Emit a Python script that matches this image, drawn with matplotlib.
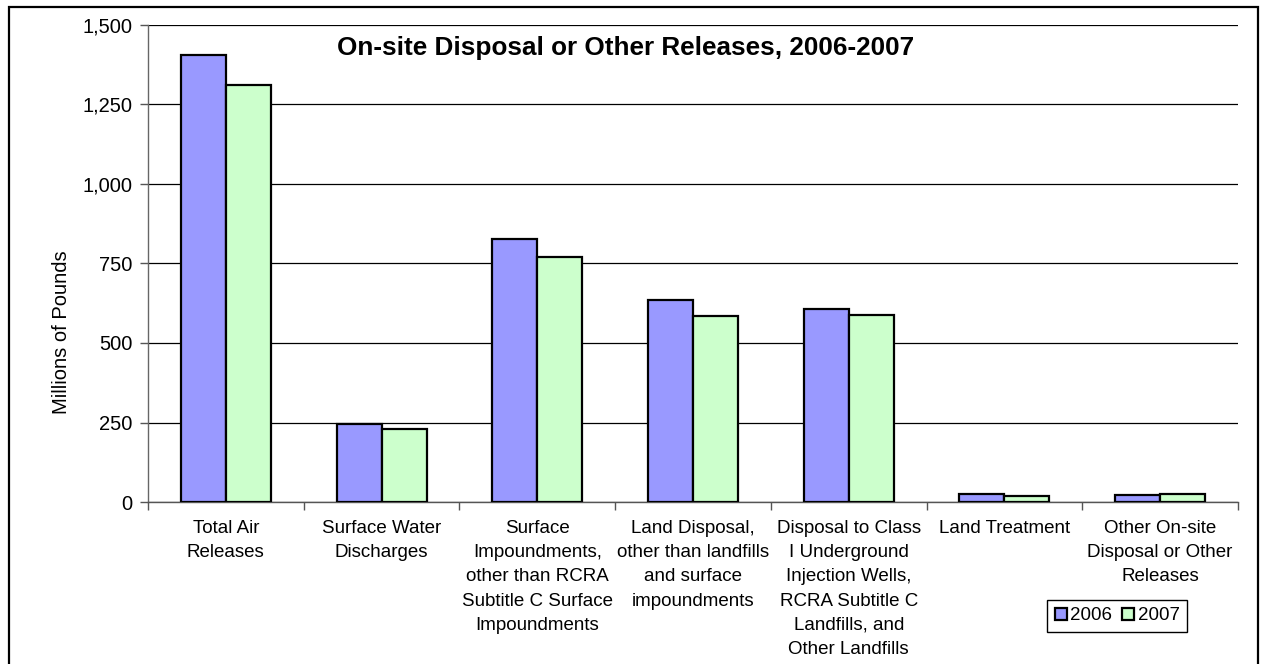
import matplotlib
matplotlib.use("Agg")
import matplotlib.pyplot as plt
import numpy as np
from matplotlib.patches import Rectangle

plt.rcParams['font.family'] = ['Liberation Sans', 'DejaVu Sans']

categories = [
    "Total Air\nReleases",
    "Surface Water\nDischarges",
    "Surface\nImpoundments,\nother than RCRA\nSubtitle C Surface\nImpoundments",
    "Land Disposal,\nother than landfills\nand surface\nimpoundments",
    "Disposal to Class\nI Underground\nInjection Wells,\nRCRA Subtitle C\nLandfills, and\nOther Landfills",
    "Land Treatment",
    "Other On-site\nDisposal or Other\nReleases",
]
values_2006 = [1406, 244, 826, 635, 606, 24, 22]
values_2007 = [1311, 231, 769, 585, 588, 19, 25]
series_labels = ["2006", "2007"]
yticks = [0, 250, 500, 750, 1000, 1250, 1500]
ytick_labels = ["0", "250", "500", "750", "1,000", "1,250", "1,500"]

W, H = 1261, 664
fig = plt.figure(figsize=(W / 100, H / 100), dpi=100)
fig.patch.set_facecolor("white")

ax = fig.add_axes([148 / W, 1 - 502 / H, 1090 / W, 477 / H])

n = len(categories)
x = np.arange(n)
bw = 0.289
ax.bar(x - bw / 2, values_2006, width=bw, color="#9999FF", edgecolor="black",
       linewidth=1.6, label=series_labels[0], zorder=3)
ax.bar(x + bw / 2, values_2007, width=bw, color="#CCFFCC", edgecolor="black",
       linewidth=1.6, label=series_labels[1], zorder=3)

ax.set_xlim(-0.5, n - 0.5)
ax.set_ylim(0, 1500)
ax.set_yticks(yticks)
ax.set_yticklabels(ytick_labels, fontsize=14.5)
ax.yaxis.grid(True, color="black", linewidth=0.9, zorder=0)
ax.set_axisbelow(True)

ax.set_xticks(x)
ax.set_xticklabels(categories, fontsize=13.5, linespacing=1.55, va="top")
ax.tick_params(axis="x", which="major", length=0, pad=13)
ax.set_xticks(np.arange(-0.5, n, 1.0), minor=True)
ax.tick_params(axis="x", which="minor", length=6, width=1, color="#555555", direction="out")
ax.tick_params(axis="y", length=6, width=1, color="#555555", direction="out", pad=5)

for s in ["top", "right"]:
    ax.spines[s].set_visible(False)
ax.spines["left"].set_color("#666666")
ax.spines["bottom"].set_color("#555555")
ax.spines["left"].set_linewidth(1.0)
ax.spines["bottom"].set_linewidth(1.0)

ax.set_ylabel("Millions of Pounds", fontsize=14.5)
ax.yaxis.set_label_coords(71 / W, 0.5, transform=fig.transFigure)

fig.text(626 / W, 1 - 48 / H, "On-site Disposal or Other Releases, 2006-2007",
         ha="center", va="center", fontsize=18.8, fontweight="bold")

leg = ax.legend(loc="lower left", bbox_to_anchor=(1047 / W, 1 - 632 / H),
                bbox_transform=fig.transFigure, borderaxespad=0, ncol=2,
                fontsize=13.5, frameon=True, fancybox=False, edgecolor="black",
                framealpha=1, handlelength=0.65, handleheight=0.65, handletextpad=0.2,
                columnspacing=0.5, borderpad=0.4)
leg.get_frame().set_linewidth(1.0)

fig.patches.append(Rectangle((8.5 / W, -10 / H), (1257.5 - 8.5) / W, (657 + 10) / H,
                             transform=fig.transFigure, fill=False,
                             edgecolor="black", linewidth=1.6))

fig.savefig("out.png", dpi=100)
